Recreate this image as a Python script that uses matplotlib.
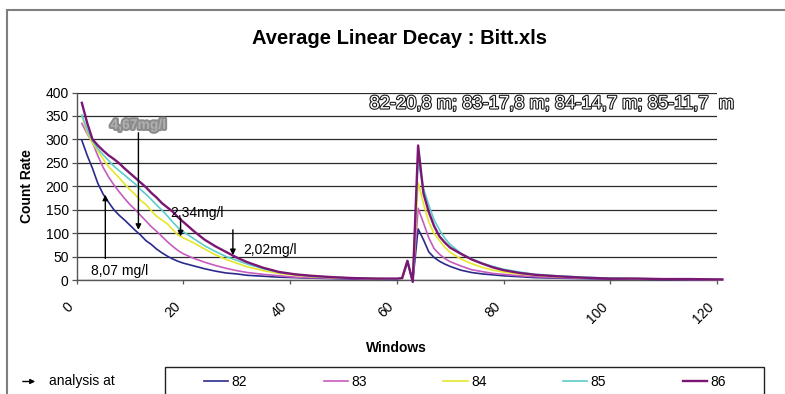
import matplotlib
matplotlib.use("Agg")
import matplotlib.pyplot as plt
import matplotlib.patheffects as pe
from matplotlib.patches import Rectangle, FancyArrowPatch

plt.rcParams['font.family'] = ['Liberation Sans', 'DejaVu Sans']

# ---- data -------------------------------------------------------------
windows = [1, 2, 3, 4, 5, 6, 7, 8, 9, 10, 11, 12, 13, 14, 15, 16, 17, 18, 19, 20,
           22, 24, 26, 28, 30, 32, 35, 38, 41, 44, 48, 52, 56, 60,
           61, 62, 63,
           64, 65, 66, 67, 68, 69, 70,
           72, 74, 76, 78, 80,
           83, 86, 90, 95, 100, 105, 110, 115, 121]

s82 = [298, 266, 238, 206, 183, 166, 150, 138, 128, 117, 106, 96, 84, 76, 66, 58, 51, 45, 40, 36,
       30, 24, 19, 15, 13, 10, 8, 6, 5, 4, 3, 2, 2, 1,
       2, 38, -3,
       109, 86, 60, 48, 40, 34, 29,
       21, 16, 13, 11, 9,
       7, 5, 4, 3, 2, 2, 1, 1, 1]

s83 = [334, 312, 293, 265, 240, 220, 203, 188, 174, 161, 150, 138, 126, 114, 104, 93, 82, 72, 63, 56,
       46, 38, 31, 25, 20, 16, 12, 9, 6, 5, 4, 3, 2, 2,
       2, 39, -3,
       153, 122, 90, 67, 55, 46, 39,
       30, 22, 18, 14, 12,
       9, 7, 5, 4, 3, 2, 2, 1, 1]

s84 = [350, 315, 292, 276, 258, 242, 230, 218, 205, 193, 182, 170, 161, 148, 136, 128, 120, 108, 96, 90,
       79, 66, 54, 44, 36, 28, 20, 14, 10, 7, 5, 4, 3, 2,
       2, 39, -3,
       208, 163, 124, 99, 84, 70, 59,
       45, 35, 27, 21, 17,
       13, 10, 7, 5, 4, 3, 2, 2, 1]

s85 = [352, 320, 297, 280, 267, 255, 243, 233, 224, 214, 205, 193, 183, 172, 160, 149, 137, 124, 112, 103,
       88, 73, 61, 50, 42, 34, 24, 16, 12, 8, 6, 4, 3, 2,
       3, 40, -3,
       254, 196, 160, 128, 107, 89, 76,
       57, 45, 36, 29, 23,
       17, 12, 9, 6, 4, 3, 2, 2, 1]

s86 = [378, 335, 300, 287, 276, 266, 258, 249, 238, 228, 218, 208, 198, 186, 176, 164, 155, 146, 134, 124,
       104, 86, 72, 60, 48, 38, 26, 17, 12, 9, 6, 4, 3, 3,
       4, 41, -4,
       287, 185, 145, 115, 93, 80, 69,
       56, 44, 35, 27, 21,
       15, 11, 8, 5, 3, 3, 2, 2, 1]

series_names = ['82', '83', '84', '85', '86']
series_values = [s82, s83, s84, s85, s86]
series_colors = ['#2b2a8c', '#c65bbf', '#e6e62a', '#5ccccc', '#7a1673']
series_widths = [1.2, 1.2, 1.2, 1.2, 1.7]

x_ticks = [0, 20, 40, 60, 80, 100, 120]
y_ticks = [0, 50, 100, 150, 200, 250, 300, 350, 400]

W, H = 785, 394

def fx(px):
    return px / W

def fy(py):
    return (H - py) / H

# ---- figure -----------------------------------------------------------
fig = plt.figure(figsize=(W / 100, H / 100), dpi=100)
fig.patch.set_facecolor('white')

# chart area frame
fig.patches.append(Rectangle((fx(6.5), -0.2), 1.2, fy(10) + 0.2,
                             transform=fig.transFigure, fill=False,
                             edgecolor='#7f7f7f', lw=1.5))

ax = fig.add_axes([fx(76.5), fy(280), fx(717) - fx(76.5), fy(92.5) - fy(280)])
ax.set_xlim(0, 120)
ax.set_ylim(0, 400)

for name, vals, col, lw in zip(series_names, series_values, series_colors, series_widths):
    ax.plot(windows, vals, color=col, lw=lw, label=name, clip_on=False, zorder=3)

ax.set_yticks(y_ticks)
ax.set_xticks(x_ticks)
ax.yaxis.grid(True, color='#2a2a2a', lw=0.9)
ax.set_axisbelow(True)
for side in ('top', 'right'):
    ax.spines[side].set_visible(False)
for side in ('left', 'bottom'):
    ax.spines[side].set_color('#555555')
    ax.spines[side].set_linewidth(1.0)

ax.tick_params(axis='y', direction='out', length=3.6, width=0.9, color='#555555',
               labelsize=10, pad=2)
ax.tick_params(axis='x', direction='out', length=3.0, width=0.9, color='#555555',
               labelsize=10, pad=11)
for lbl in ax.get_xticklabels():
    lbl.set_rotation(45)
    lbl.set_ha('right')
    lbl.set_va('top')

ax.set_xlabel('Windows', fontsize=10, fontweight='bold', labelpad=11)
ax.set_ylabel('Count Rate', fontsize=10, fontweight='bold', labelpad=8)

fig.text(fx(400), fy(38), 'Average Linear Decay : Bitt.xls', ha='center', va='center',
         fontsize=14.5, fontweight='bold')

# outlined depth note
fig.text(fx(552), fy(104), '82-20,8 m; 83-17,8 m; 84-14,7 m; 85-11,7  m',
         ha='center', va='center', fontsize=13.2,
         family=['Liberation Sans Narrow', 'Liberation Sans', 'DejaVu Sans'],
         color='white',
         path_effects=[pe.Stroke(linewidth=1.6, foreground='#1a1a1a'), pe.Normal()])

# concentration notes
arrow_kw = dict(arrowstyle='-|>', color='black', lw=1.0, mutation_scale=8,
                shrinkA=0, shrinkB=0)
ax.annotate('', xy=(5.4, 182), xytext=(5.4, 46), arrowprops=arrow_kw, zorder=4)
ax.text(2.75, 19, '8,07 mg/l', fontsize=10, va='center', ha='left')

ax.annotate('', xy=(11.6, 107), xytext=(11.6, 314), arrowprops=arrow_kw, zorder=4)
ax.text(11.6, 331, '4,67mg/l', fontsize=10, fontweight='bold', ha='center', va='center',
        color='#b0b0b0',
        path_effects=[pe.Stroke(linewidth=3, foreground='#8c8c8c'), pe.Normal()])

ax.annotate('', xy=(19.5, 93), xytext=(19.5, 132), arrowprops=arrow_kw, zorder=4)
ax.text(17.6, 143, '2,34mg/l', fontsize=10, va='center', ha='left')

ax.annotate('', xy=(29.3, 53), xytext=(29.3, 107), arrowprops=arrow_kw, zorder=4)
ax.text(31.3, 64, '2,02mg/l', fontsize=10, va='center', ha='left')

# legend row
fig.patches.append(Rectangle((fx(165), -0.2), fx(764) - fx(165), fy(366.7) + 0.2,
                             transform=fig.transFigure, fill=False,
                             edgecolor='#222222', lw=1.0))
handles, labels = ax.get_legend_handles_labels()
fig.legend(handles, labels, ncol=5, loc='center', bbox_to_anchor=(fx(465), fy(381.5)),
           frameon=False, fontsize=10, handlelength=1.75, handletextpad=0.25,
           columnspacing=5.5)

fig.add_artist(FancyArrowPatch((fx(20), fy(381.5)), (fx(38), fy(381.5)),
                               transform=fig.transFigure, arrowstyle='-|>',
                               mutation_scale=7, color='black', lw=1.0))
fig.text(fx(49), fy(381.5), 'analysis at', fontsize=10, va='center', ha='left')

fig.savefig('out.png', dpi=100)
